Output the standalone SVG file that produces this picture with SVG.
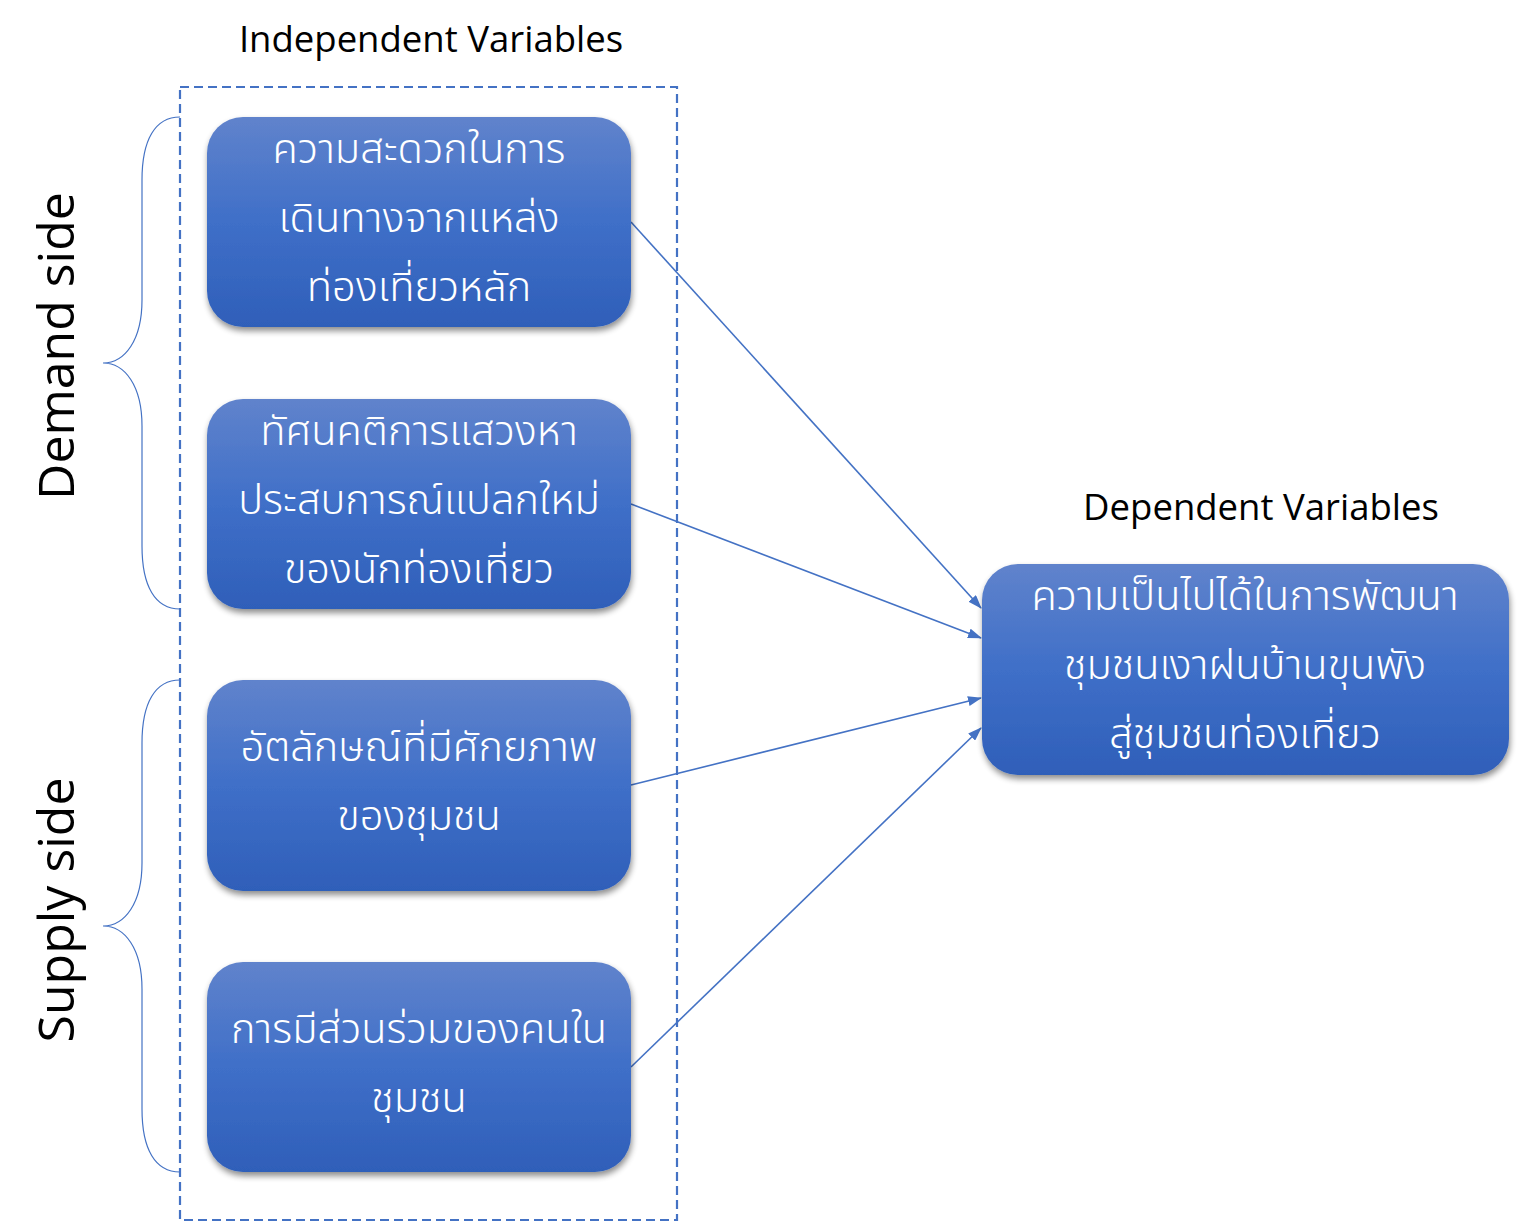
<svg xmlns="http://www.w3.org/2000/svg" width="1520" height="1222" viewBox="0 0 1520 1222">
<style>
.hdr{font-family:"Open Sans","Noto Sans",sans-serif;font-size:36.5px;fill:#000;text-anchor:middle}
.side{font-family:"Open Sans","Noto Sans",sans-serif;font-size:50px;fill:#000;text-anchor:middle}
.th{font-family:"Noto Sans Thai","Noto Sans","DejaVu Sans",sans-serif;font-size:41.5px;font-weight:300;fill:#fff;text-anchor:middle}
.box{fill:url(#g);filter:url(#sh)}
.conn{stroke:#4472c4;stroke-width:1.6;fill:none;marker-end:url(#ah)}
.brace{stroke:#4472c4;stroke-width:1.2;fill:none}
</style>
<defs>
<linearGradient id="g" x1="0" y1="0" x2="0" y2="1">
<stop offset="0" stop-color="#6083cc"/>
<stop offset="0.5" stop-color="#3f6fc8"/>
<stop offset="1" stop-color="#2f5fb9"/>
</linearGradient>
<filter id="sh" x="-10%" y="-10%" width="120%" height="125%">
<feGaussianBlur in="SourceAlpha" stdDeviation="3"/>
<feOffset dx="1" dy="4"/>
<feComponentTransfer><feFuncA type="linear" slope="0.45"/></feComponentTransfer>
<feMerge><feMergeNode/><feMergeNode in="SourceGraphic"/></feMerge>
</filter>
<marker id="ah" markerWidth="14" markerHeight="10" refX="13" refY="5" orient="auto" markerUnits="userSpaceOnUse" viewBox="0 0 14 10">
<path d="M0,0 L14,5 L0,10 z" fill="#4472c4"/>
</marker>
</defs>
<rect width="1520" height="1222" fill="#fff"/>
<g id="frame">
<rect x="180" y="87" width="497" height="1133" fill="none" stroke="#4472c4" stroke-width="2.2" stroke-dasharray="9,5"/>
<text class="hdr" x="431" y="52">Independent Variables</text>
<text class="hdr" x="1261" y="520">Dependent Variables</text>
</g>
<g id="braces">
<path class="brace" d="M180,117 C155,117 142,140 142,180 L142,300 C142,340 125,363 103,363 C125,363 142,386 142,426 L142,546 C142,586 155,609 180,609"/>
<path class="brace" d="M180,680 C155,680 142,703 142,743 L142,863 C142,903 125,926 103,926 C125,926 142,949 142,989 L142,1109 C142,1149 155,1172 180,1172"/>
<text class="side" transform="translate(74,346) rotate(-90)">Demand side</text>
<text class="side" transform="translate(74,910) rotate(-90)">Supply side</text>
</g>
<g id="connectors">
<line class="conn" x1="631" y1="222" x2="981" y2="608"/>
<line class="conn" x1="631" y1="504" x2="981" y2="638"/>
<line class="conn" x1="631" y1="785" x2="981" y2="698"/>
<line class="conn" x1="631" y1="1067" x2="981" y2="728"/>
</g>
<g id="n1">
<rect class="box" x="207" y="117" width="424" height="210" rx="36"/>
<text class="th" x="419" y="163">ความสะดวกในการ</text>
<text class="th" x="419" y="232">เดินทางจากแหล่ง</text>
<text class="th" x="419" y="301">ท่องเที่ยวหลัก</text>
</g>
<g id="n2">
<rect class="box" x="207" y="399" width="424" height="210" rx="36"/>
<text class="th" x="419" y="445">ทัศนคติการแสวงหา</text>
<text class="th" x="419" y="514">ประสบการณ์แปลกใหม่</text>
<text class="th" x="419" y="583">ของนักท่องเที่ยว</text>
</g>
<g id="n3">
<rect class="box" x="207" y="680" width="424" height="211" rx="36"/>
<text class="th" x="419" y="761">อัตลักษณ์ที่มีศักยภาพ</text>
<text class="th" x="419" y="830">ของชุมชน</text>
</g>
<g id="n4">
<rect class="box" x="207" y="962" width="424" height="210" rx="36"/>
<text class="th" x="419" y="1043">การมีส่วนร่วมของคนใน</text>
<text class="th" x="419" y="1112">ชุมชน</text>
</g>
<g id="n5">
<rect class="box" x="982" y="564" width="527" height="211" rx="36"/>
<text class="th" x="1245" y="610">ความเป็นไปได้ในการพัฒนา</text>
<text class="th" x="1245" y="679">ชุมชนเงาฝนบ้านขุนพัง</text>
<text class="th" x="1245" y="748">สู่ชุมชนท่องเที่ยว</text>
</g>
</svg>
